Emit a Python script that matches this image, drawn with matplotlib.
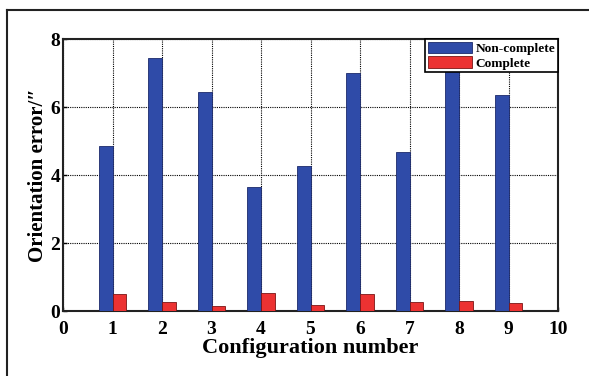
import matplotlib
matplotlib.use('Agg')
import matplotlib.pyplot as plt
from matplotlib.lines import Line2D
import numpy as np

# configuration numbers and orientation errors
configuracoes = [1, 2, 3, 4, 5, 6, 7, 8, 9]
erro_incompleto = [4.85, 7.44, 6.44, 3.65, 4.26, 7.00, 4.68, 7.30, 6.35]
erro_completo = [0.50, 0.26, 0.15, 0.53, 0.18, 0.50, 0.26, 0.29, 0.23]
rotulos_x = [str(i) for i in range(0, 11)]
rotulos_y = ['0', '2', '4', '6', '8']

plt.rcParams['font.family'] = ['Liberation Serif', 'DejaVu Serif']
plt.rcParams['font.weight'] = 'bold'

fig = plt.figure(figsize=(5.89, 3.76), dpi=100)
ax = fig.add_axes([63 / 589, 1 - 311 / 376, (558 - 63) / 589, (311 - 39) / 376])

x = np.array(configuracoes)
largura = 0.28
ax.bar(x, erro_incompleto, width=-largura, align='edge', color='#2F4BA8',
       edgecolor='#1c2a6a', linewidth=0.6, label='Non-complete', zorder=3)
ax.bar(x, erro_completo, width=largura, align='edge', color='#EC3232',
       edgecolor='#7a1515', linewidth=0.6, label='Complete', zorder=3)

ax.set_xlim(0, 10)
ax.set_ylim(0, 8)
ax.set_xticks(range(0, 11))
ax.set_xticklabels(rotulos_x)
ax.set_yticks([0, 2, 4, 6, 8])
ax.set_yticklabels(rotulos_y)
ax.tick_params(axis='both', direction='in', length=3, labelsize=14, width=1)
ax.tick_params(axis='x', pad=7.5)
ax.tick_params(axis='y', pad=2)
for lab in ax.get_xticklabels() + ax.get_yticklabels():
    lab.set_fontweight('bold')

ax.grid(True, linestyle=(0, (1, 1)), color='black', linewidth=0.8, zorder=0)
ax.set_axisbelow(True)
for sp in ax.spines.values():
    sp.set_linewidth(1.5)
    sp.set_color('#222222')

ax.set_xlabel('Configuration number', fontsize=16, fontweight='bold', labelpad=0)
ax.set_ylabel('Orientation error/\u2033', fontsize=15, fontweight='bold', labelpad=2)

leg = ax.legend(loc='upper right', borderaxespad=0, fancybox=False, framealpha=1,
                edgecolor='black', handlelength=3.3, handleheight=0.95,
                handletextpad=0.3, borderpad=0.2, labelspacing=0.1,
                prop={'weight': 'bold', 'size': 9.6})
leg.get_frame().set_linewidth(1.2)
leg.set_zorder(5)

# moldura cortada da figura original (apenas topo e esquerda)
fig.add_artist(Line2D([7 / 589, 1], [1 - 10 / 376, 1 - 10 / 376], color='#222222', linewidth=1.5))
fig.add_artist(Line2D([7 / 589, 7 / 589], [0, 1 - 10 / 376], color='#222222', linewidth=1.5))

fig.savefig('out.png', dpi=100)
